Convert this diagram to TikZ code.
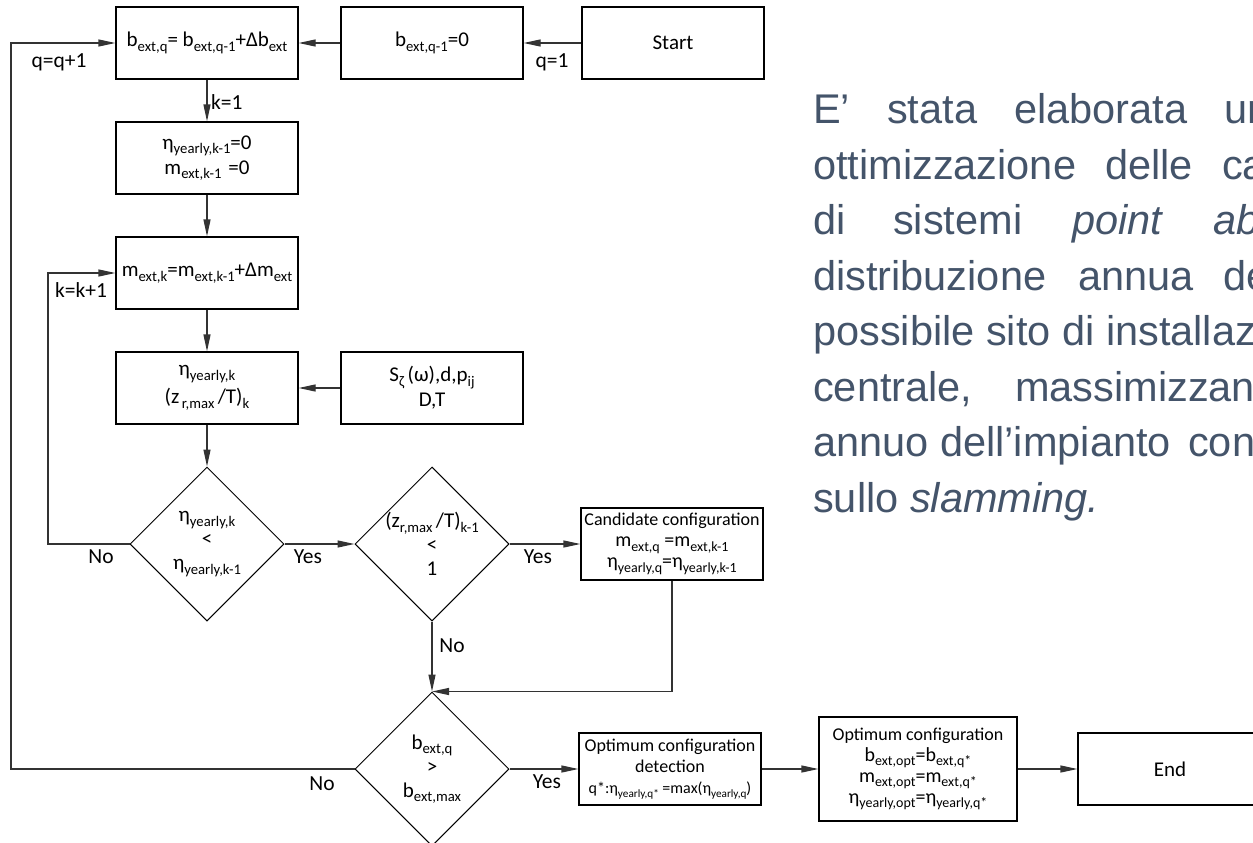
\documentclass[tikz,border=0pt]{standalone}
\usepackage{fontspec}
\setmainfont{Carlito}
\newfontfamily\parafont{Liberation Sans}
\usetikzlibrary{arrows.meta,shapes.geometric}
\definecolor{paracol}{HTML}{44546A}
\newcommand\sbx[1]{\raisebox{-0.22em}{\scalebox{0.7}{#1}}}
\tikzset{
 box/.style={draw=black, line width=1.2pt, minimum width=182pt, minimum height=72pt, inner sep=0pt, align=center, font=\fontsize{21}{25}\selectfont},
 dia/.style={draw=black, line width=1pt, diamond, minimum width=154pt, minimum height=154pt, inner sep=0pt},
 dtext/.style={align=center, inner sep=0pt, font=\fontsize{21}{24}\selectfont},
 conn/.style={line width=1.2pt, draw=black!80, -{Triangle[length=17pt,width=7pt]}},
 lab/.style={font=\fontsize{21.5}{24}\selectfont, inner sep=0pt},
 pw/.style={font=\parafont\fontsize{41.5}{50}\selectfont, text=paracol, anchor=base west, inner sep=0pt},
}
\begin{document}
\begin{tikzpicture}[x=1pt,y=-1pt]
\useasboundingbox (0,0) rectangle (1253,843);
\clip (0,0) rectangle (1253,843);
% boxes
\node[box] (b1) at (207,43) {b\sbx{ext,q}= b\sbx{ext,q-1}+Δb\sbx{ext}};
\node[box] (b0) at (432,43) {b\sbx{ext,q-1}=0};
\node[box] (start) at (673,43) {Start};
\node[box] (b2) at (207,158) {η\sbx{yearly,k-1}=0\\ m\sbx{ext,k-1}\,\,=0};
\node[box] (b3) at (207,273) {m\sbx{ext,k}=m\sbx{ext,k-1}+Δm\sbx{ext}};
\node[box] (b4) at (207,388) {η\sbx{yearly,k}\\[3pt](z\sbx{\,r,max}\,/T)\sbx{k}};
\node[box] (sin) at (432,388) {S\sbx{ζ}\,(ω),d,p\sbx{ij}\\D,T};
\node[dia] (d1) at (207,544) {};
\node[dtext] at (d1) {η\sbx{yearly,k}\\<\\η\sbx{yearly,k-1}};
\node[dia] (d2) at (432,544) {};
\node[dtext] at (d2) {(z\sbx{r,max}\,/T)\sbx{k-1}\\<\\1};
\node[box, font=\fontsize{18}{21}\selectfont] (cand) at (672,544) {Candidate configuration\\{\fontsize{20}{21}\selectfont m\sbx{ext,q} =m\sbx{ext,k-1}}\\{\fontsize{20}{21}\selectfont η\sbx{yearly,q}=η\sbx{yearly,k-1}}};
\node[dia] (d3) at (432,769) {};
\node[dtext] at (d3) {b\sbx{ext,q}\\>\\b\sbx{ext,max}};
\node[box, font=\fontsize{18}{21}\selectfont] (det) at (670,769) {Optimum configuration\\detection\\{\fontsize{16}{18}\selectfont q*:η\sbx{yearly,q*} =max(η\sbx{yearly,q})}};
\node[box, minimum width=198pt, minimum height=104pt, font=\fontsize{18}{21}\selectfont] (opt) at (918,769) {Optimum configuration\\{\fontsize{20}{22}\selectfont b\sbx{ext,opt}=b\sbx{ext,q*}}\\{\fontsize{20}{22}\selectfont m\sbx{ext,opt}=m\sbx{ext,q*}}\\{\fontsize{20}{22}\selectfont η\sbx{yearly,opt}=η\sbx{yearly,q*}}};
\node[box, minimum width=184pt] (end) at (1170,769) {End};
% helper coordinates
\coordinate (kl) at (48,544);
\coordinate (ql) at (11,769);
% connectors
\draw[conn] (start) -- (b0);
\draw[conn] (b0) -- (b1);
\draw[conn] (b1) -- (b2);
\draw[conn] (b2) -- (b3);
\draw[conn] (b3) -- (b4);
\draw[conn] (sin) -- (b4);
\draw[conn] (b4) -- (d1);
\draw[conn] (d1) -- (d2);
\draw[conn] (d2) -- (cand);
\draw[conn] (d2) -- (d3);
\draw[conn] (cand.south) |- (d3.north);
\draw[conn] (d1.west) -- (kl) |- (b3.west);
\draw[conn] (d3.west) -- (ql) |- (b1.west);
\draw[conn] (d3) -- (det);
\draw[conn] (det) -- (opt);
\draw[conn] (opt) -- (end);
% labels
\node[lab] (lq1) at (552,62) {q=1};
\node[lab] (lqq) at (59,62) {q=q+1};
\node[lab, anchor=west] (lk1) at (211,102) {k=1};
\node[lab] (lkk) at (81,290) {k=k+1};
\node[lab] (lno1) at (101,557) {No};
\node[lab] (lyes1) at (308,557) {Yes};
\node[lab] (lyes2) at (538,557) {Yes};
\node[lab] (lno2) at (452,646) {No};
\node[lab] (lno3) at (322,784) {No};
\node[lab] (lyes3) at (547,782) {Yes};
% paragraph
\node[pw] (p11) at (813,123.5) {E’};
\node[pw] (p12) at (887,123.5) {stata};
\node[pw] (p13) at (1014,123.5) {elaborata};
\node[pw] (p14) at (1224,123.5) {un};
\node[pw] (p21) at (813,179) {ottimizzazione};
\node[pw] (p22) at (1105,179) {delle};
\node[pw] (p23) at (1222,179) {ca};
\node[pw] (p31) at (813,234.5) {di};
\node[pw] (p32) at (893,234.5) {sistemi};
\node[pw] (p33) at (1072,234.5) {\itshape point};
\node[pw] (p34) at (1213,234.5) {\itshape ab};
\node[pw] (p41) at (813,290) {distribuzione};
\node[pw] (p42) at (1078,290) {annua};
\node[pw] (p43) at (1223,290) {de};
\node[pw] (p51) at (813,345.5) {possibile sito di installaz};
\node[pw] (p61) at (813,401) {centrale,};
\node[pw] (p62) at (1015,401) {massimizzan};
\node[pw] (p71) at (813,456.5) {annuo};
\node[pw] (p72) at (940,456.5) {dell’impianto};
\node[pw] (p73) at (1188,456.5) {con};
\node[pw] (p81) at (813,512) {sullo \textit{slamming.}};
\end{tikzpicture}
\end{document}
